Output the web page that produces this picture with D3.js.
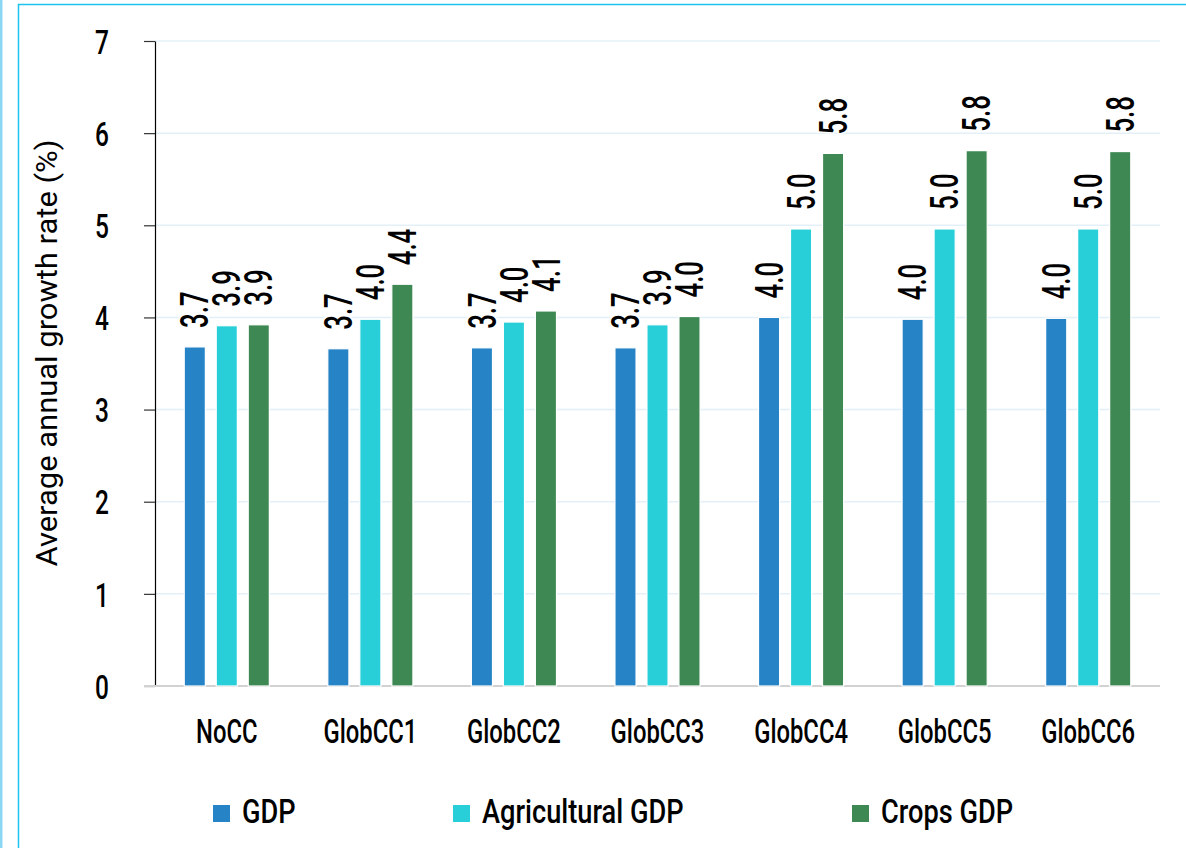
<!DOCTYPE html>
<html>
<head>
<meta charset="utf-8">
<script src="https://cdn.jsdelivr.net/npm/d3@7"></script>
<style>
  html, body { margin: 0; padding: 0; background: #ffffff; }
  svg { display: block; }
  text { font-family: Roboto, "Liberation Sans", sans-serif; font-weight: 500; fill: #000; }
  text.axis-title { font-weight: 400; }
</style>
</head>
<body>
<svg id="chart" width="1186" height="848"></svg>
<script>
// Scenario categories and the three growth-rate series (% per year)
const categories = ["NoCC", "GlobCC1", "GlobCC2", "GlobCC3", "GlobCC4", "GlobCC5", "GlobCC6"];
const seriesNames = ["GDP", "Agricultural GDP", "Crops GDP"];
const gdp      = [3.68, 3.66, 3.67, 3.67, 4.00, 3.98, 3.99];
const agGdp    = [3.91, 3.98, 3.95, 3.92, 4.96, 4.96, 4.96];
const cropsGdp = [3.92, 4.36, 4.07, 4.01, 5.78, 5.81, 5.80];
const yTicks   = [0, 1, 2, 3, 4, 5, 6, 7];
const yTitle   = "Average annual growth rate (%)";

const colors = ["#2683c6", "#28ced8", "#3e8853"];
const seriesValues = [gdp, agGdp, cropsGdp];

const svg = d3.select("#chart");
const plot = { left: 155, right: 1160, top: 41, bottom: 686 };

// squeeze text horizontally to get a condensed face
function condense(sel, k) {
  sel.each(function () {
    const w = this.getComputedTextLength();
    d3.select(this).attr("textLength", w * k).attr("lengthAdjust", "spacingAndGlyphs");
  });
}

// page frame lines
svg.append("line").attr("x1", 1.2).attr("x2", 1.2).attr("y1", 0).attr("y2", 848)
  .attr("stroke", "#8ad7f3").attr("stroke-width", 2.5);
svg.append("path").attr("d", "M18.5,848 V4.5 H1186")
  .attr("fill", "none").attr("stroke", "#1ec2ef").attr("stroke-width", 1.5);

const x0 = d3.scaleBand().domain(categories).range([plot.left, plot.right]).padding(0);
const x1 = d3.scaleBand().domain(seriesNames).range([0, 96]).paddingInner(0.34).paddingOuter(0.17);
const y = d3.scaleLinear().domain([0, 7]).range([plot.bottom, plot.top]);

// horizontal gridlines
svg.append("g").selectAll("line").data(yTicks.filter(d => d > 0)).join("line")
  .attr("x1", plot.left).attr("x2", plot.right)
  .attr("y1", d => y(d)).attr("y2", d => y(d))
  .attr("stroke", "#e4f0f7").attr("stroke-width", 1.5);

// y axis
const yAxis = svg.append("g").attr("transform", `translate(${plot.left},0)`)
  .call(d3.axisLeft(y).tickValues(yTicks).tickFormat(d3.format("d"))
    .tickSize(11).tickPadding(35).tickSizeOuter(0));
yAxis.select(".domain").attr("stroke", "#000").attr("stroke-width", 1.2);
yAxis.selectAll(".tick line").attr("stroke", "#333").attr("stroke-width", 1.2);
yAxis.selectAll(".tick text").attr("font-size", 34).attr("font-family", "Roboto")
  .attr("fill", "#000").attr("dy", "0.36em");
condense(yAxis.selectAll(".tick text"), 0.72);

// baseline
svg.append("line").attr("x1", plot.left - 11).attr("x2", plot.right)
  .attr("y1", y(0)).attr("y2", y(0)).attr("stroke", "#d2d2d2").attr("stroke-width", 2);

// bars
const groups = svg.append("g").selectAll("g").data(categories).join("g")
  .attr("transform", c => `translate(${x0(c) + x0.bandwidth() / 2 - 48},0)`);

groups.selectAll("rect")
  .data((c, i) => seriesNames.map((s, j) => ({ s, j, v: seriesValues[j][i] })))
  .join("rect")
  .attr("x", d => x1(d.s))
  .attr("width", x1.bandwidth())
  .attr("y", d => y(d.v))
  .attr("height", d => y(0) - y(d.v))
  .attr("fill", d => colors[d.j])
  .attr("stroke", "#ffffff").attr("stroke-width", 1.2);

// rotated value labels above bars
const fmt = d3.format(".1f");
const valueLabels = groups.selectAll("text.value")
  .data((c, i) => seriesNames.map((s, j) => ({ s, j, v: seriesValues[j][i] })))
  .join("text").attr("class", "value")
  .attr("transform", d => `translate(${x1(d.s) + x1.bandwidth() / 2},${y(d.v) - 19}) rotate(-90)`)
  .attr("dy", "0.36em")
  .attr("text-anchor", "start")
  .attr("font-size", 38)
  .attr("stroke", "#fff").attr("stroke-width", 4).attr("paint-order", "stroke")
  .text(d => fmt(d.v));
condense(valueLabels, 0.68);

// category labels
const xLabels = svg.append("g").selectAll("text").data(categories).join("text")
  .attr("x", c => x0(c) + x0.bandwidth() / 2)
  .attr("y", 743)
  .attr("text-anchor", "middle")
  .attr("font-size", 34)
  .text(c => c);
condense(xLabels, 0.7);

// y axis title
svg.append("text")
  .attr("class", "axis-title")
  .attr("transform", "translate(57,353) rotate(-90)")
  .attr("text-anchor", "middle")
  .attr("font-size", 30)
  .attr("textLength", 427).attr("lengthAdjust", "spacingAndGlyphs")
  .text(yTitle);

// legend
const legendX = [213, 453, 852];
const legend = svg.append("g").selectAll("g").data(seriesNames).join("g")
  .attr("transform", (s, i) => `translate(${legendX[i]},805)`);
legend.append("rect").attr("width", 17).attr("height", 17)
  .attr("fill", (s, i) => colors[i]);
const legendText = legend.append("text")
  .attr("x", 29).attr("y", 18)
  .attr("font-size", 34)
  .text(s => s);
condense(legendText, 0.8);
</script>
</body>
</html>
